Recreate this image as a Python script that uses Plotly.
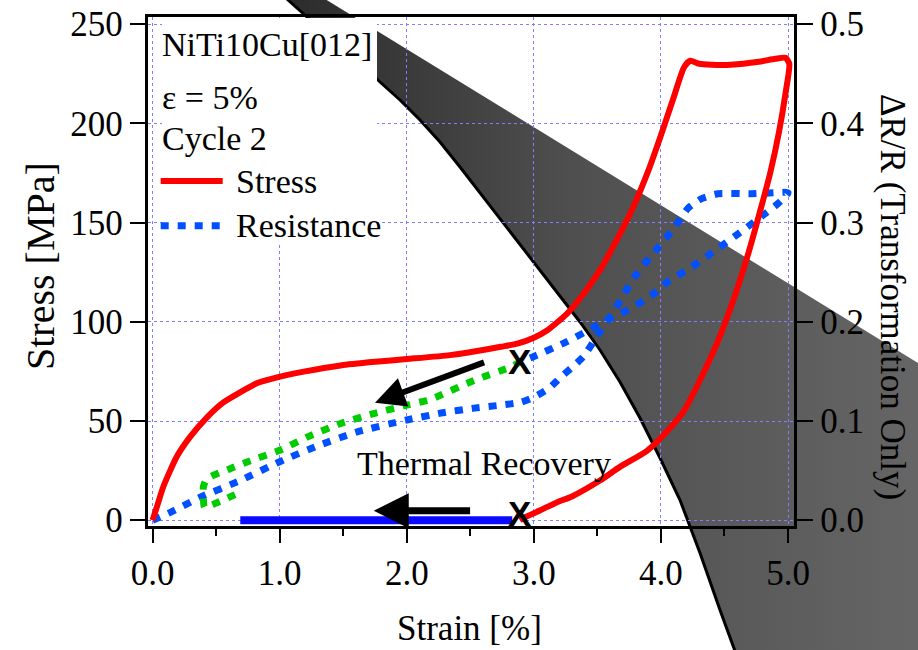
import plotly.graph_objects as go

W, H = 918, 650

# Stress-strain loop, cycle 2 (strain in %, stress in MPa)
stress_strain = [0.00, 0.04, 0.085, 0.19, 0.295, 0.43, 0.56, 0.69, 0.82, 0.95, 1.20, 1.48,
                 1.75, 2.00, 2.34, 2.53, 2.74, 2.87, 3.00, 3.10, 3.26, 3.39, 3.52, 3.65,
                 3.79, 3.90, 4.00, 4.10, 4.18, 4.23, 4.30, 4.40, 4.55, 4.77, 4.90, 4.98,
                 5.01, 4.98, 4.93, 4.86, 4.79, 4.69, 4.57, 4.44, 4.31, 4.18, 4.05, 3.89,
                 3.68, 3.52, 3.30, 3.18, 3.05, 2.93, 2.89]
stress_mpa = [0.0, 8, 17, 32, 42, 52, 59.5, 64.5, 69, 71.5, 75, 78,
              79.8, 81.2, 83.2, 85, 87.4, 89, 92, 95.5, 104, 114, 126, 141,
              159, 176, 194, 213, 228, 231.5, 230, 229.5, 229.5, 231, 232.5, 233,
              230, 215, 196, 175, 158, 135, 111, 89, 71, 55, 45, 35,
              27, 20, 12, 9, 5, 1.5, 0.0]

# Resistance change during the same cycle (transformation contribution only)
res_strain = [0.00, 0.14, 0.38, 0.69, 1.00, 1.30, 1.61, 2.00, 2.27, 2.53, 2.74, 2.90,
              3.00, 3.12, 3.21, 3.30, 3.39, 3.52, 3.65, 3.79, 3.94, 4.10, 4.21, 4.32,
              4.45, 4.71, 4.90, 5.00, 4.92, 4.79, 4.58, 4.45, 4.24, 4.05, 3.92, 3.74,
              3.58, 3.48, 3.26, 3.00, 2.90]
res_dr = [0.000, 0.008, 0.0235, 0.040, 0.059, 0.075, 0.089, 0.101, 0.108, 0.113, 0.116, 0.119,
          0.124, 0.133, 0.144, 0.154, 0.165, 0.190, 0.215, 0.245, 0.269, 0.294, 0.314, 0.324,
          0.329, 0.329, 0.330, 0.330, 0.319, 0.306, 0.286, 0.274, 0.255, 0.240, 0.226, 0.212,
          0.202, 0.195, 0.180, 0.165, 0.160]

# Resistance during thermal recovery after unloading
rec_strain = [2.90, 2.81, 2.53, 2.19, 2.00, 1.74, 1.48, 1.22, 1.00, 0.77, 0.61, 0.43,
              0.40, 0.40, 0.41, 0.53, 0.67]
rec_dr = [0.160, 0.154, 0.141, 0.122, 0.116, 0.1075, 0.0975, 0.084, 0.0705, 0.060, 0.052, 0.042,
          0.034, 0.022, 0.013, 0.019, 0.027]

# Strain recovered at zero stress on heating
bar_strain = [0.69, 2.83]
bar_stress = [0.0, 0.0]

# End of mechanical unloading (marked with X)
end_strain = 2.89
end_dr = 0.160
end_stress = 0.0

# Dark ribbon crossing the page (page pixels, origin top-left)
rib_lower_x = [283, 288, 307, 340, 360, 380, 400, 420, 440, 460, 480, 500, 520, 540, 560,
               580, 600, 620, 640, 660, 680, 700, 720, 735, 739]
rib_lower_y = [-5, 0, 17, 46, 63, 82, 100, 120, 142, 167, 193, 218, 244, 270, 296,
               322, 350, 382, 418, 458, 500, 553, 610, 650, 662]
rib_upper_x = [925, 318.5]
rib_upper_y = [367.4, -5]

SERIF = "Liberation Serif"
FS = 34
TICK_FS = 35


def px(x):
    return x / W


def py(y):
    return 1 - y / H


fig = go.Figure()

# ribbon on a full-page helper subplot (drawn first, under the grid)
poly_x = rib_lower_x + [925, 925] + rib_upper_x
poly_y = rib_lower_y + [662, 662] + rib_upper_y
fig.add_trace(go.Scatter(
    x=poly_x, y=poly_y, mode="lines", fill="toself",
    line=dict(width=0, color="rgba(0,0,0,0)"),
    fillgradient=dict(type="horizontal",
                      colorscale=[[0, "#2b2b2b"], [0.45, "#4f4f4f"], [1, "#666666"]]),
    hoverinfo="skip", showlegend=False, xaxis="x", yaxis="y"))
fig.add_trace(go.Scatter(
    x=rib_lower_x, y=rib_lower_y, mode="lines",
    line=dict(color="black", width=3),
    hoverinfo="skip", showlegend=False, xaxis="x", yaxis="y"))

# resistance (right axis)
fig.add_trace(go.Scatter(
    x=res_strain, y=res_dr, mode="lines", name="Resistance",
    line=dict(color="#0050ff", width=7, dash="8px,9px", shape="spline", smoothing=0.6),
    showlegend=False, xaxis="x2", yaxis="y2"))
fig.add_trace(go.Scatter(
    x=rec_strain, y=rec_dr, mode="lines", name="Recovery",
    line=dict(color="#00cc00", width=7, dash="8px,9px", shape="spline", smoothing=0.6),
    showlegend=False, xaxis="x2", yaxis="y2"))

# stress (left axis, overlaid so it sits on top)
fig.add_trace(go.Scatter(
    x=bar_strain, y=bar_stress, mode="lines", name="Recovered strain",
    line=dict(color="#0a0aff", width=8),
    showlegend=False, xaxis="x2", yaxis="y3"))
fig.add_trace(go.Scatter(
    x=stress_strain, y=stress_mpa, mode="lines", name="Stress",
    line=dict(color="#ff0000", width=6, shape="spline", smoothing=0.6),
    showlegend=False, xaxis="x2", yaxis="y3"))

tick_font = dict(family=SERIF, size=TICK_FS, color="black")
grid = dict(showgrid=True, gridcolor="#8080ff", griddash="dot", gridwidth=1)

fig.update_layout(
    template="none",
    width=W, height=H, autosize=False,
    margin=dict(l=0, r=0, t=0, b=0, pad=0, autoexpand=False),
    paper_bgcolor="white", plot_bgcolor="rgba(0,0,0,0)",
    showlegend=False,
    font=dict(family=SERIF, size=FS, color="black"),
    xaxis=dict(domain=[0, 1], range=[0, W], visible=False, fixedrange=True,
               automargin=False),
    yaxis=dict(domain=[0, 1], range=[H, 0], visible=False, fixedrange=True,
               automargin=False),
    xaxis2=dict(domain=[px(147.5), px(793.5)], anchor="y2", range=[-0.04, 5.043],
                tick0=0, dtick=1, tickformat=".1f", ticks="outside", ticklen=14,
                tickwidth=2, tickcolor="black", showline=True, mirror=True,
                linecolor="black", linewidth=2.5, zeroline=False, tickfont=tick_font,
                automargin=False,
                minor=dict(dtick=0.5, ticks="outside", ticklen=7, tickwidth=2,
                           tickcolor="black", showgrid=False),
                **grid),
    yaxis2=dict(domain=[py(526), py(16.5)], anchor="x2", side="right",
                range=[-0.0058, 0.5076], tick0=0, dtick=0.1, tickformat=".1f",
                ticks="outside", ticklen=17, tickwidth=2, tickcolor="black",
                showline=True, linecolor="black", linewidth=2.5, zeroline=False,
                tickfont=tick_font, automargin=False, **grid),
    yaxis3=dict(overlaying="y2", anchor="x2", side="left",
                range=[-2.9, 253.8], tick0=0, dtick=50,
                ticks="outside", ticklen=15, tickwidth=2, tickcolor="black",
                showline=True, linecolor="black", linewidth=2.5, zeroline=False,
                showgrid=False, tickfont=tick_font, automargin=False),
)

shapes = [
    # white panel behind the labels
    dict(type="rect", xref="paper", yref="paper", layer="above",
         x0=px(162), x1=px(377), y0=py(245), y1=py(18),
         fillcolor="white", line=dict(width=0)),
    # key samples
    dict(type="line", xref="paper", yref="paper", layer="above",
         x0=px(160.7), x1=px(222.7), y0=py(181), y1=py(181),
         line=dict(color="#ff0000", width=6)),
    dict(type="line", xref="paper", yref="paper", layer="above",
         x0=px(160.7), x1=px(221), y0=py(225.7), y1=py(225.7),
         line=dict(color="#0050ff", width=7, dash="8px,9px")),
]
fig.update_layout(shapes=shapes)

ann = []


def label(text, x, y, xanchor="left", angle=0, size=FS):
    ann.append(dict(text=text, xref="paper", yref="paper", x=px(x), y=py(y),
                    xanchor=xanchor, yanchor="middle", showarrow=False,
                    textangle=angle, font=dict(family=SERIF, size=size, color="black")))


label("NiTi10Cu[012]", 160, 44)
label("ε = 5%", 160, 97)
label("Cycle 2", 160, 138)
label("Stress", 234, 181)
label("Resistance", 234, 225)
label("Thermal Recovery", 355, 463)
label("Strain [%]", 469, 628, xanchor="center", size=35)
label("Stress [MPa]", 40, 266, xanchor="center", angle=-90, size=40)
label("ΔR/R (Transformation Only)", 893, 297, xanchor="center", angle=90, size=35)

# X marks at the end of unloading
ann.append(dict(text="<b>X</b>", xref="x2", yref="y2", x=end_strain, y=end_dr,
                showarrow=False, xanchor="center", yanchor="middle",
                font=dict(family="Liberation Sans", size=35, color="black")))
ann.append(dict(text="<b>X</b>", xref="x2", yref="y3", x=end_strain, y=end_stress,
                yshift=7, showarrow=False, xanchor="center", yanchor="middle",
                font=dict(family="Liberation Sans", size=35, color="black")))

# recovery direction arrows
ann.append(dict(text="", xref="x2", yref="y3", x=1.75, y=59.2,
                axref="x2", ayref="y3", ax=2.62, ay=79.8,
                showarrow=True, arrowhead=2, arrowsize=1, arrowwidth=6,
                arrowcolor="black"))
ann.append(dict(text="", xref="x2", yref="y3", x=1.74, y=4.8,
                axref="x2", ayref="y3", ax=2.51, ay=4.8,
                showarrow=True, arrowhead=2, arrowsize=1, arrowwidth=7,
                arrowcolor="black"))

fig.update_layout(annotations=ann)

fig.write_html("out.html")
